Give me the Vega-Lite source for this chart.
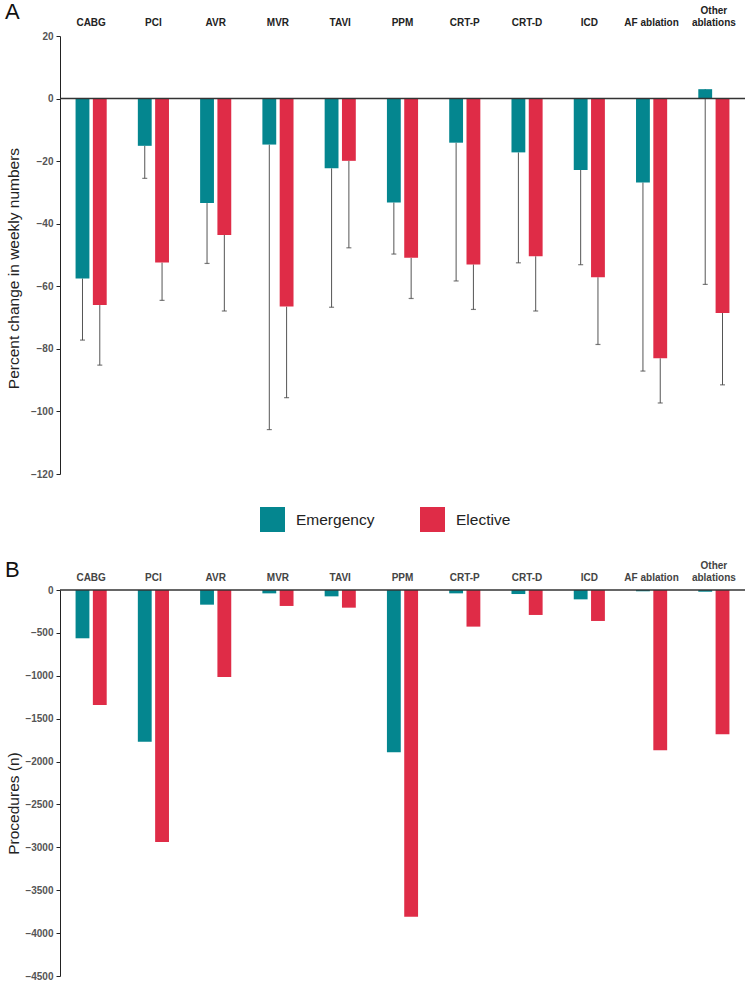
{
  "$schema": "https://vega.github.io/schema/vega-lite/v6.json",
  "padding": {"left": 5, "top": 1, "right": 0, "bottom": 0},
  "background": "white",
  "config": {"view": {"stroke": null}, "font": "Liberation Sans", "axis": {"grid": false}},
  "datasets": {
    "d": [
      {"proc": "CABG", "type": "Emergency", "pct": -57.5, "low": -77.2, "n": -563},
      {"proc": "CABG", "type": "Elective", "pct": -66, "low": -85.2, "n": -1340},
      {"proc": "PCI", "type": "Emergency", "pct": -15.1, "low": -25.5, "n": -1768},
      {"proc": "PCI", "type": "Elective", "pct": -52.4, "low": -64.5, "n": -2937},
      {"proc": "AVR", "type": "Emergency", "pct": -33.4, "low": -52.7, "n": -171},
      {"proc": "AVR", "type": "Elective", "pct": -43.6, "low": -67.9, "n": -1014},
      {"proc": "MVR", "type": "Emergency", "pct": -14.7, "low": -105.8, "n": -39},
      {"proc": "MVR", "type": "Elective", "pct": -66.5, "low": -95.6, "n": -186},
      {"proc": "TAVI", "type": "Emergency", "pct": -22.3, "low": -66.7, "n": -74},
      {"proc": "TAVI", "type": "Elective", "pct": -19.9, "low": -47.7, "n": -206},
      {"proc": "PPM", "type": "Emergency", "pct": -33.2, "low": -49.7, "n": -1892},
      {"proc": "PPM", "type": "Elective", "pct": -50.9, "low": -63.9, "n": -3808},
      {"proc": "CRT-P", "type": "Emergency", "pct": -14.1, "low": -58.3, "n": -39},
      {"proc": "CRT-P", "type": "Elective", "pct": -53, "low": -67.4, "n": -427},
      {"proc": "CRT-D", "type": "Emergency", "pct": -17.2, "low": -52.5, "n": -47},
      {"proc": "CRT-D", "type": "Elective", "pct": -50.4, "low": -67.9, "n": -291},
      {"proc": "ICD", "type": "Emergency", "pct": -22.8, "low": -53.1, "n": -109},
      {"proc": "ICD", "type": "Elective", "pct": -57.1, "low": -78.6, "n": -361},
      {"proc": "AF ablation", "type": "Emergency", "pct": -26.8, "low": -87.1, "n": -15},
      {"proc": "AF ablation", "type": "Elective", "pct": -83, "low": -97.3, "n": -1868},
      {"proc": "Other ablations", "type": "Emergency", "pct": 3, "low": -59.4, "n": -20},
      {"proc": "Other ablations", "type": "Elective", "pct": -68.5, "low": -91.5, "n": -1682}
    ]
  },
  "spacing": 27,
  "resolve": {"legend": {"color": "independent"}},
  "vconcat": [
    {
      "width": 685,
      "height": 438,
      "title": {"text": "A", "anchor": "start", "frame": "bounds", "fontSize": 22, "fontWeight": "normal", "font": "Liberation Sans", "color": "#111", "offset": -19, "dx": -1},
      "encoding": {
        "x": {"field": "proc", "type": "nominal", "sort": ["CABG", "PCI", "AVR", "MVR", "TAVI", "PPM", "CRT-P", "CRT-D", "ICD", "AF ablation", "Other ablations"], "scale": {"paddingInner": 0.5, "paddingOuter": 0.25},
          "axis": {"orient": "top", "title": null, "ticks": false, "domain": false, "labelAngle": 0, "labelFont": "Liberation Sans", "labelFontWeight": "bold", "labelFontSize": 10, "labelColor": "#222",
            "labelPadding": {"condition": {"test": "datum.value === 'Other ablations'", "value": 21}, "value": 9},
            "labelExpr": "datum.label == 'Other ablations' ? ['Other', 'ablations'] : datum.label"}},
        "xOffset": {"field": "type", "type": "nominal", "sort": ["Emergency", "Elective"], "scale": {"paddingInner": 0.2}}
      },
      "layer": [
        {
          "data": {"name": "d"},
          "mark": {"type": "rule", "color": "#555", "strokeWidth": 1},
          "encoding": {
            "y": {"field": "pct", "type": "quantitative", "scale": {"domain": [-120, 20], "nice": false},
              "axis": {"title": "Percent change in weekly numbers", "values": [20, 0, -20, -40, -60, -80, -100, -120], "grid": false, "domainColor": "#222", "domainWidth": 1, "tickColor": "#222", "tickSize": 4, "labelFont": "Liberation Sans", "labelFontSize": 10, "labelFontWeight": "bold", "labelColor": "#555", "labelPadding": 3, "titleFont": "Liberation Sans", "titleFontSize": 15.5, "titleFontWeight": "normal", "titleColor": "#222", "minExtent": 36, "maxExtent": 36, "titlePadding": 3, "titleY": 232}},
            "y2": {"field": "low"}
          }
        },
        {
          "data": {"name": "d"},
          "mark": {"type": "bar"},
          "encoding": {
            "y": {"field": "pct", "type": "quantitative", "stack": null, "title": "Percent change in weekly numbers"},
            "color": {"field": "type", "type": "nominal", "scale": {"domain": ["Emergency", "Elective"], "range": ["#04868F", "#DF2C47"]},
              "legend": {"orient": "none", "legendX": 200, "legendY": 471, "direction": "horizontal", "title": null, "symbolType": "square", "symbolSize": 625, "symbolStrokeWidth": 0, "labelFontSize": 15.5, "labelFont": "Liberation Sans", "labelColor": "#222", "labelOffset": 11, "columnPadding": 45, "padding": 0}}
          }
        },
        {
          "data": {"name": "d"},
          "mark": {"type": "tick", "size": 5, "thickness": 1.2, "color": "#444"},
          "encoding": {
            "y": {"field": "low", "type": "quantitative", "title": "Percent change in weekly numbers"}
          }
        },
        {
          "data": {"values": [{}]},
          "mark": {"type": "rule", "color": "#333", "strokeWidth": 1.5},
          "encoding": {"x": null, "xOffset": null, "y": {"datum": 0}}
        }
      ]
    },
    {
      "width": 685,
      "height": 386,
      "title": {"text": "B", "anchor": "start", "frame": "bounds", "fontSize": 22, "fontWeight": "normal", "font": "Liberation Sans", "color": "#111", "offset": -22, "dx": -1},
      "layer": [
        {
          "data": {"name": "d"},
          "mark": {"type": "bar"},
          "encoding": {
            "x": {"field": "proc", "type": "nominal", "sort": ["CABG", "PCI", "AVR", "MVR", "TAVI", "PPM", "CRT-P", "CRT-D", "ICD", "AF ablation", "Other ablations"], "scale": {"paddingInner": 0.5, "paddingOuter": 0.25},
              "axis": {"orient": "top", "title": null, "ticks": false, "domain": false, "labelAngle": 0, "labelFont": "Liberation Sans", "labelFontWeight": "bold", "labelFontSize": 10, "labelColor": "#444",
                "labelPadding": {"condition": {"test": "datum.value === 'Other ablations'", "value": 20}, "value": 8},
                "labelExpr": "datum.label == 'Other ablations' ? ['Other', 'ablations'] : datum.label"}},
            "xOffset": {"field": "type", "type": "nominal", "sort": ["Emergency", "Elective"], "scale": {"paddingInner": 0.2}},
            "y": {"field": "n", "type": "quantitative", "stack": null, "scale": {"domain": [-4500, 0], "nice": false},
              "axis": {"title": "Procedures (n)", "format": "d", "values": [0, -500, -1000, -1500, -2000, -2500, -3000, -3500, -4000, -4500], "grid": false, "domainColor": "#222", "domainWidth": 1, "tickColor": "#222", "tickSize": 4, "labelFont": "Liberation Sans", "labelFontSize": 10, "labelFontWeight": "bold", "labelColor": "#555", "labelPadding": 3, "titleFont": "Liberation Sans", "titleFontSize": 15.5, "titleFontWeight": "normal", "titleColor": "#222", "minExtent": 36, "maxExtent": 36, "titlePadding": 3, "titleY": 213}},
            "color": {"field": "type", "type": "nominal", "scale": {"domain": ["Emergency", "Elective"], "range": ["#04868F", "#DF2C47"]}, "legend": null}
          }
        },
        {
          "data": {"values": [{}]},
          "mark": {"type": "rule", "color": "#333", "strokeWidth": 1.5},
          "encoding": {"y": {"datum": 0}}
        }
      ]
    }
  ]
}
